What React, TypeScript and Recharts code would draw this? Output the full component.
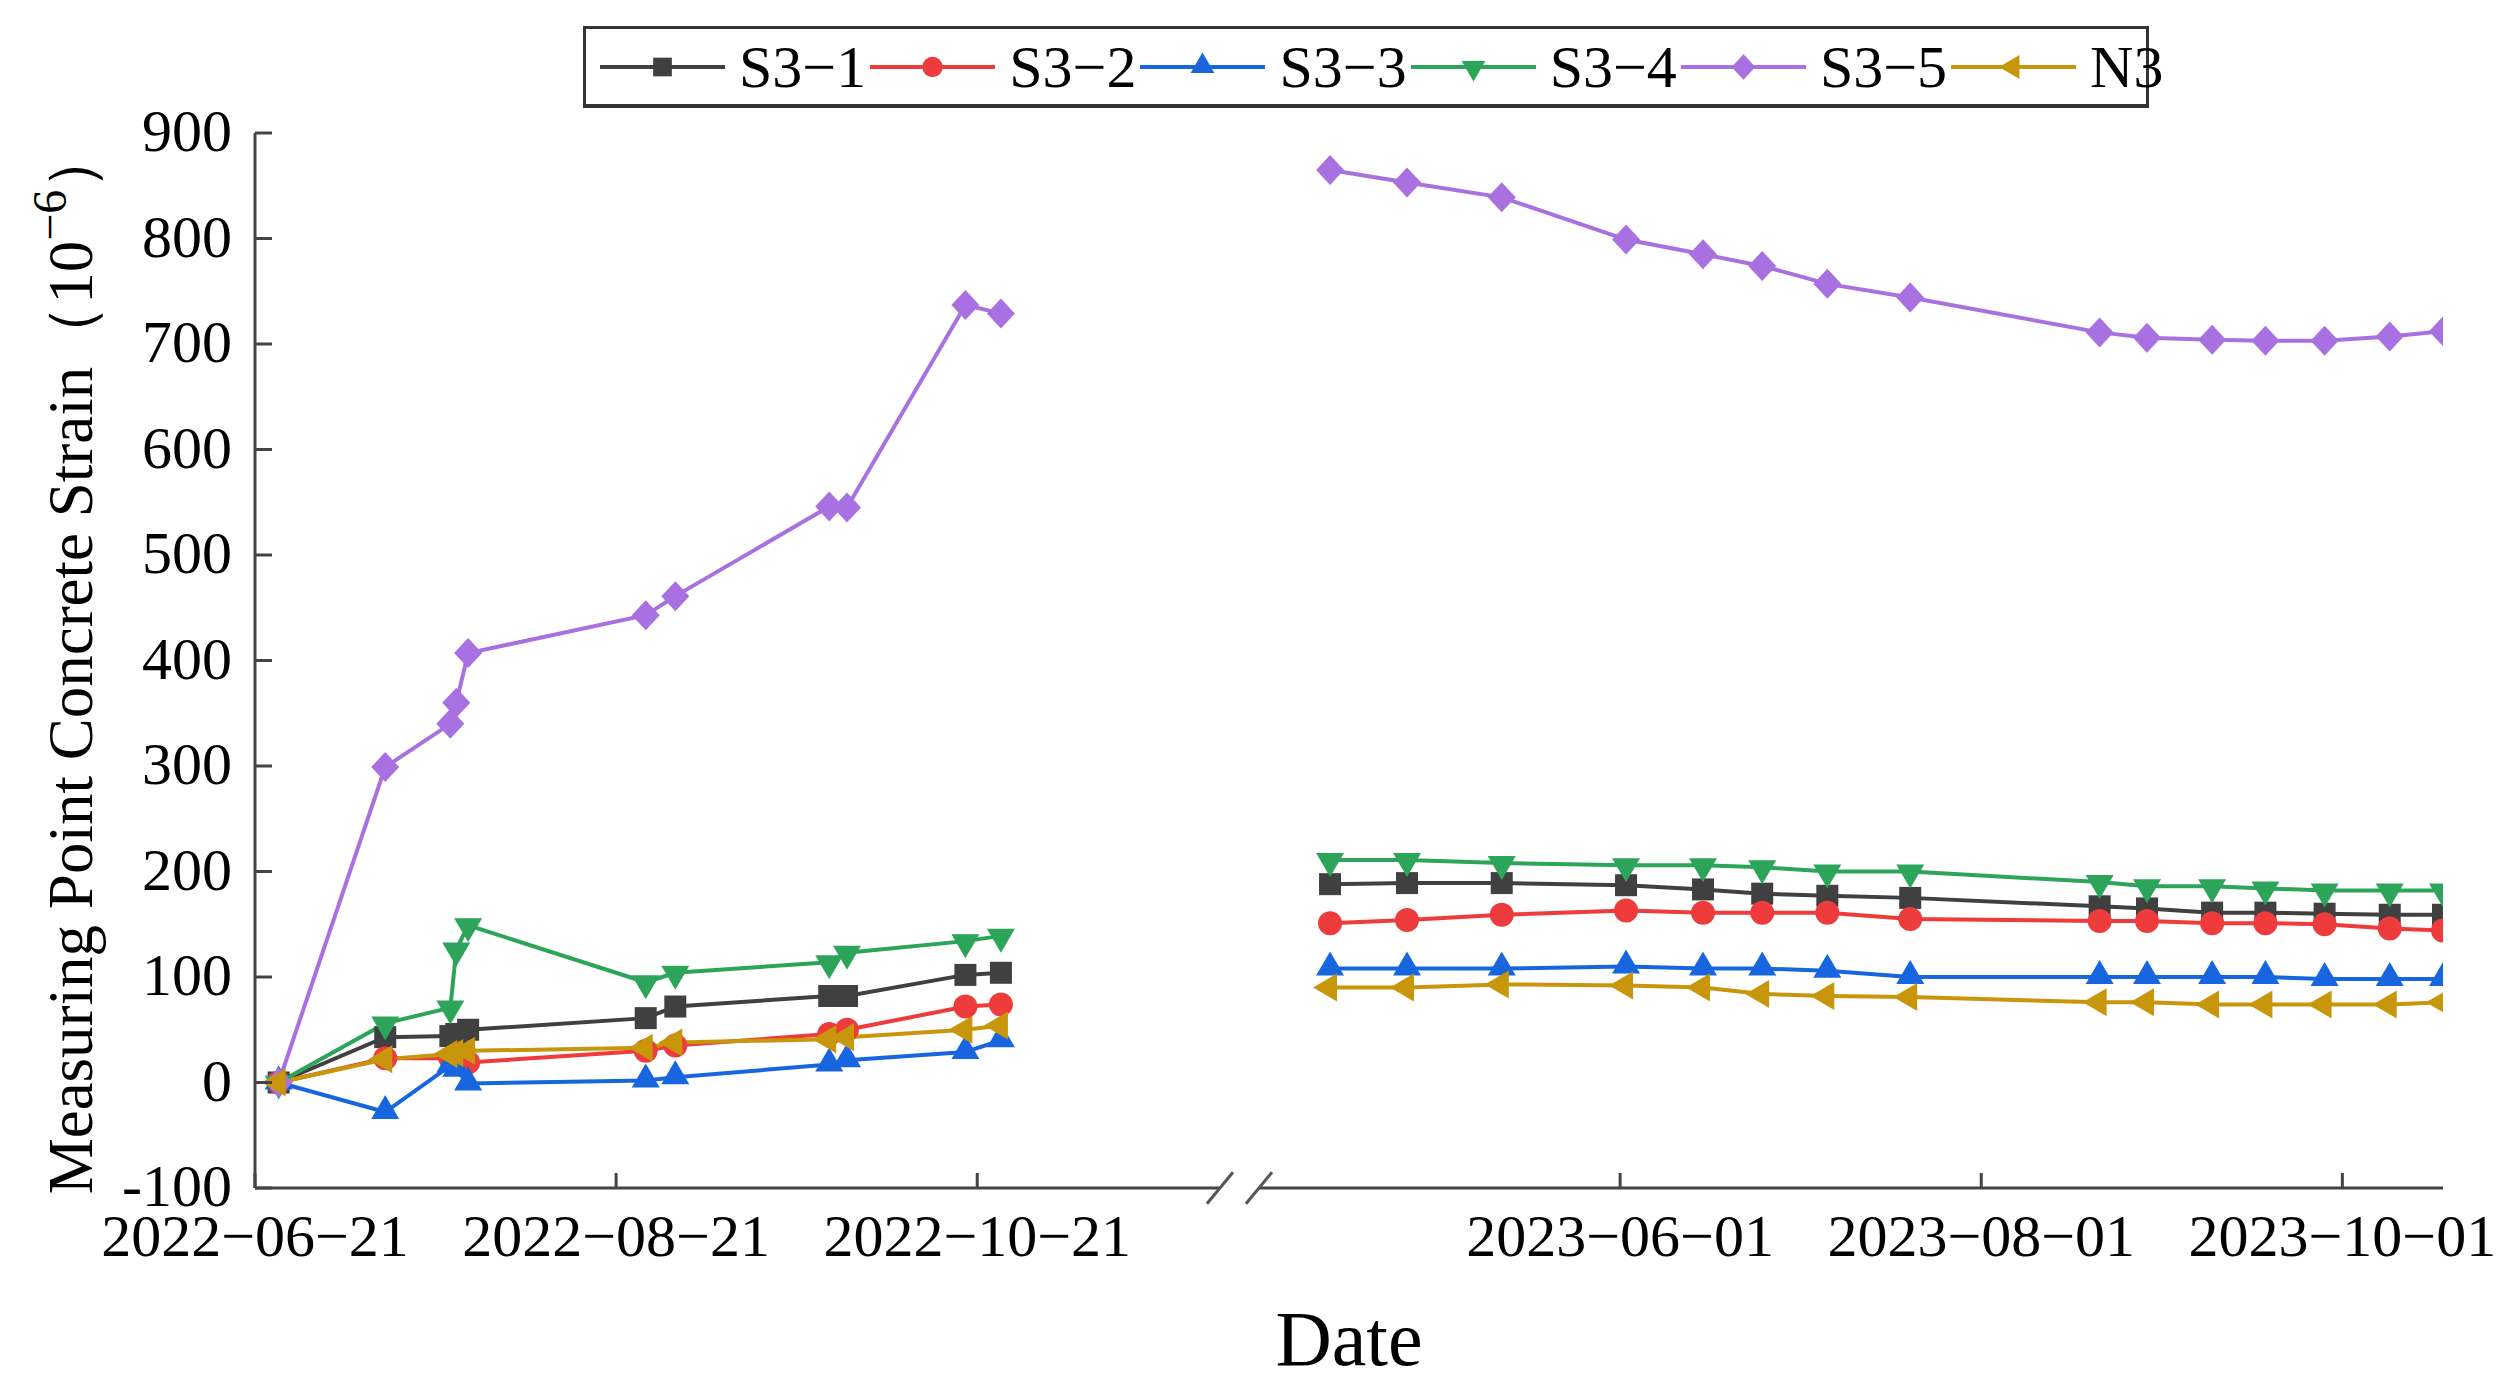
import React from "react";
import { LineChart, Line, XAxis, YAxis, ReferenceLine } from "recharts";

// measurement dates, before and after the axis break
const LEFT_DATES = [
  "2022-06-25", "2022-07-13", "2022-07-24", "2022-07-25", "2022-07-27", "2022-08-26",
  "2022-08-31", "2022-09-26", "2022-09-29", "2022-10-19", "2022-10-25",
];
const RIGHT_DATES = [
  "2023-04-13", "2023-04-26", "2023-05-12", "2023-06-02", "2023-06-15", "2023-06-25",
  "2023-07-06", "2023-07-20", "2023-08-21", "2023-08-29", "2023-09-09", "2023-09-18",
  "2023-09-28", "2023-10-09", "2023-10-18",
];

const S3_1_LEFT = [0, 43, 44, 46, 50, 61, 72, 82, 82, 102, 104];
const S3_1_RIGHT = [188, 189, 189, 187, 183, 179, 177, 175, 167, 165, 161, 161, 160, 159, 159];
const S3_2_LEFT = [0, 23, 23, 21, 19, 30, 35, 46, 50, 72, 74];
const S3_2_RIGHT = [151, 154, 159, 163, 161, 161, 161, 155, 153, 153, 151, 151, 150, 146, 144];
const S3_3_LEFT = [0, -28, 16, 12, -1, 2, 5, 17, 21, 29, 40];
const S3_3_RIGHT = [108, 108, 108, 110, 108, 108, 106, 100, 100, 100, 100, 100, 98, 98, 98];
const S3_4_LEFT = [0, 56, 71, 126, 149, 95, 104, 114, 123, 134, 139];
const S3_4_RIGHT = [211, 211, 208, 206, 206, 204, 200, 200, 190, 186, 186, 184, 182, 182, 182];
const S3_5_LEFT = [0, 299, 340, 360, 407, 443, 461, 546, 545, 737, 729];
const S3_5_RIGHT = [865, 853, 839, 799, 785, 774, 757, 744, 711, 706, 704, 703, 703, 707, 712];
const N3_LEFT = [0, 22, 27, 28, 30, 33, 38, 41, 43, 50, 54];
const N3_RIGHT = [90, 90, 93, 92, 90, 84, 82, 81, 76, 76, 74, 74, 74, 74, 76];

const X_TICK_LABELS = ["2022-06-21", "2022-08-21", "2022-10-21", "2023-06-01", "2023-08-01", "2023-10-01"];
const Y_TICKS = [-100, 0, 100, 200, 300, 400, 500, 600, 700, 800, 900];

// broken time axis
const AXIS_START = "2022-06-21";
const LEFT_END = "2022-12-01";
const RIGHT_START = "2023-04-01";
const AXIS_END = "2023-10-18";
const BREAK_GAP = 6.6; // days of empty space at the break

const FONT = "'Liberation Serif', 'Times New Roman', serif";
const AXIS_COLOR = "#444444";

const toDay = (s: string) => {
  const [y, m, d] = s.split("-").map(Number);
  return Date.UTC(y, m - 1, d) / 86400000;
};
const leftEndPos = toDay(LEFT_END) - toDay(AXIS_START);
const rightStartPos = leftEndPos + BREAK_GAP;
const pos = (s: string) => {
  const d = toDay(s);
  return d <= toDay(LEFT_END) ? d - toDay(AXIS_START) : d - toDay(RIGHT_START) + rightStartPos;
};

const SERIES = [
  { key: "s31", name: "S3\u22121", color: "#404040", shape: "square", left: S3_1_LEFT, right: S3_1_RIGHT },
  { key: "s32", name: "S3\u22122", color: "#ee3b3b", shape: "circle", left: S3_2_LEFT, right: S3_2_RIGHT },
  { key: "s33", name: "S3\u22123", color: "#1766e0", shape: "up", left: S3_3_LEFT, right: S3_3_RIGHT },
  { key: "s34", name: "S3\u22124", color: "#2ca55a", shape: "down", left: S3_4_LEFT, right: S3_4_RIGHT },
  { key: "s35", name: "S3\u22125", color: "#a870e0", shape: "diamond", left: S3_5_LEFT, right: S3_5_RIGHT },
  { key: "n3", name: "N3", color: "#c8960a", shape: "left", left: N3_LEFT, right: N3_RIGHT },
];

const rowFor = (date: string, i: number, side: "left" | "right") => {
  const row: Record<string, number | null> = { x: pos(date) };
  SERIES.forEach((s) => (row[s.key] = s[side][i]));
  return row;
};

const gapRow: Record<string, number | null> = { x: (leftEndPos + rightStartPos) / 2 };
SERIES.forEach((s) => (gapRow[s.key] = null));

const data = [
  ...LEFT_DATES.map((d, i) => rowFor(d, i, "left")),
  gapRow,
  ...RIGHT_DATES.map((d, i) => rowFor(d, i, "right")),
];

const xTicks = X_TICK_LABELS.map(pos);
const labelAt = (v: number) => X_TICK_LABELS[xTicks.indexOf(v)] ?? "";

function Marker({ shape, cx, cy, color, k = 1 }: any) {
  if (cx == null || cy == null) return <g />;
  switch (shape) {
    case "square":
      return <rect x={cx - 11 * k} y={cy - 11 * k} width={22 * k} height={22 * k} fill={color} />;
    case "circle":
      return <circle cx={cx} cy={cy} r={12 * k} fill={color} />;
    case "up":
      return <polygon points={`${cx},${cy - 17 * k} ${cx + 14 * k},${cy + 7 * k} ${cx - 14 * k},${cy + 7 * k}`} fill={color} />;
    case "down":
      return <polygon points={`${cx},${cy + 17 * k} ${cx + 14 * k},${cy - 7 * k} ${cx - 14 * k},${cy - 7 * k}`} fill={color} />;
    case "diamond":
      return <polygon points={`${cx},${cy - 15 * k} ${cx + 14 * k},${cy} ${cx},${cy + 15 * k} ${cx - 14 * k},${cy}`} fill={color} />;
    default:
      return <polygon points={`${cx - 17 * k},${cy} ${cx + 7 * k},${cy - 14 * k} ${cx + 7 * k},${cy + 14 * k}`} fill={color} />;
  }
}

function XTick({ x, y, payload }: any) {
  return (
    <g>
      <line x1={x} x2={x} y1={y} y2={y - 15} stroke={AXIS_COLOR} strokeWidth={3} />
      <text x={x} y={y + 68} textAnchor="middle" fontSize={60} fontFamily={FONT} fill="#000">
        {labelAt(payload.value).replace(/-/g, "\u2212")}
      </text>
    </g>
  );
}

function YTick({ x, y, payload }: any) {
  return (
    <g>
      <line x1={x} x2={x + 17} y1={y} y2={y} stroke={AXIS_COLOR} strokeWidth={3} />
      <text x={x - 23} y={y - 2} textAnchor="end" dominantBaseline="central" fontSize={60} fontFamily={FONT} fill="#000">
        {payload.value}
      </text>
    </g>
  );
}

function YTitle({ viewBox }: any) {
  const cx = 84;
  const cy = viewBox.y + viewBox.height / 2;
  return (
    <text x={cx} y={cy} transform={`rotate(-90 ${cx} ${cy})`} textAnchor="middle" fontSize={63} fontFamily={FONT} fill="#000">
      Measuring Point Concrete Strain（10
      <tspan dy={-26} fontSize={48}>{"\u22126"}</tspan>
      <tspan dy={26}>）</tspan>
    </text>
  );
}

function Legend() {
  return (
    <div
      style={{
        position: "absolute",
        left: 575,
        top: 18,
        width: 1566,
        height: 82,
        boxSizing: "border-box",
        border: "3px solid #333",
        borderBottomWidth: 4,
        display: "flex",
        alignItems: "center",
        paddingLeft: 14,
        background: "#fff",
        fontFamily: FONT,
        fontSize: 60,
        color: "#000",
      }}
    >
      {SERIES.map((s) => (
        <div key={s.key} style={{ display: "flex", alignItems: "center" }}>
          <svg width={125} height={44}>
            <line x1={0} x2={125} y1={22} y2={22} stroke={s.color} strokeWidth={4} />
            <Marker shape={s.shape} cx={62.5} cy={22} color={s.color} k={0.85} />
          </svg>
          <span style={{ marginLeft: 14, marginRight: 4, lineHeight: 1 }}>{s.name}</span>
        </div>
      ))}
    </div>
  );
}

export default function App() {
  const xEnd = pos(AXIS_END);
  return (
    <div style={{ position: "relative", width: 2496, height: 1374, background: "#fff" }}>
      <LineChart width={2496} height={1374} data={data} margin={{ top: 125, right: 61, left: 0, bottom: 0 }}>
        <XAxis
          type="number"
          dataKey="x"
          domain={[0, xEnd]}
          allowDataOverflow
          ticks={xTicks}
          interval={0}
          axisLine={false}
          tickLine={false}
          tickSize={0}
          tickMargin={0}
          height={194}
          tick={(p: any) => <XTick {...p} />}
          label={{ value: "Date", position: "insideBottom", offset: 17, fontSize: 78, fontFamily: FONT, fill: "#000" }}
        />
        <YAxis
          type="number"
          domain={[-100, 900]}
          ticks={Y_TICKS}
          interval={0}
          width={247}
          axisLine={{ stroke: AXIS_COLOR, strokeWidth: 3 }}
          tickLine={false}
          tickSize={0}
          tickMargin={0}
          tick={(p: any) => <YTick {...p} />}
          label={{ content: (p: any) => <YTitle {...p} /> }}
        />
        <ReferenceLine segment={[{ x: 0, y: -100 }, { x: leftEndPos, y: -100 }]} stroke={AXIS_COLOR} strokeWidth={3} ifOverflow="visible" />
        <ReferenceLine segment={[{ x: rightStartPos, y: -100 }, { x: xEnd, y: -100 }]} stroke={AXIS_COLOR} strokeWidth={3} ifOverflow="visible" />
        <ReferenceLine segment={[{ x: leftEndPos - 2.2, y: -115 }, { x: leftEndPos + 2.2, y: -85 }]} stroke="#555" strokeWidth={3} ifOverflow="visible" />
        <ReferenceLine segment={[{ x: rightStartPos - 2.2, y: -115 }, { x: rightStartPos + 2.2, y: -85 }]} stroke="#555" strokeWidth={3} ifOverflow="visible" />
        {SERIES.map((s) => (
          <Line
            key={s.key}
            type="linear"
            dataKey={s.key}
            name={s.name}
            stroke={s.color}
            strokeWidth={4}
            connectNulls={false}
            activeDot={false}
            isAnimationActive={false}
            dot={(p: any) => <Marker key={`${s.key}-${p.index}`} shape={s.shape} cx={p.cx} cy={p.cy} color={s.color} />}
          />
        ))}
      </LineChart>
      <Legend />
    </div>
  );
}
